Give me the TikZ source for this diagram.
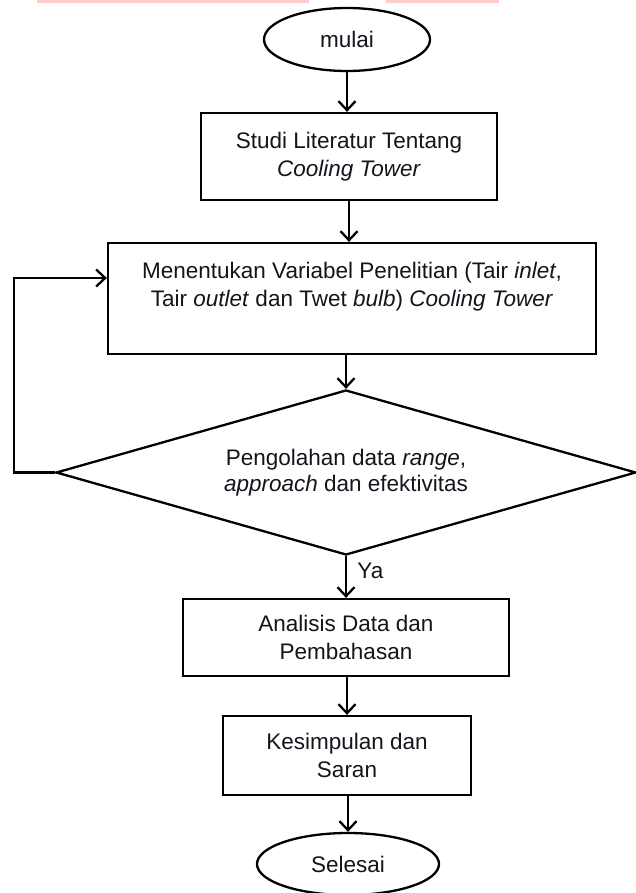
\documentclass[tikz,border=0pt]{standalone}
\usepackage{fontspec}
\setmainfont{Liberation Sans}
\usetikzlibrary{arrows.meta,shapes.geometric}
\definecolor{hilite}{RGB}{255,204,204}
\definecolor{inkc}{RGB}{20,20,28}

\begin{document}
\begin{tikzpicture}[x=1pt, y=-1pt,
    box/.style={draw=black, line width=2.3pt, align=center, inner sep=0pt,
                font=\fontsize{22.5}{28}\selectfont, text=inkc},
    term/.style={ellipse, draw=black, line width=2.3pt, inner sep=0pt,
                 font=\fontsize{22.5}{28}\selectfont, text=inkc},
    decision/.style={diamond, draw=black, line width=2.3pt, inner sep=0pt, aspect=3.5,
                     align=center, font=\fontsize{22.5}{26}\selectfont, text=inkc},
    arr/.style={-{Straight Barb[length=9pt,width=17pt,line width=2.3pt]}, line width=2.3pt}
]
\useasboundingbox (0,0) rectangle (636,893);
% strips cut from the page above
\fill[hilite] (37,0) rectangle (309,3);
\fill[hilite] (386,0) rectangle (499,3);

\node[term, minimum width=166pt, minimum height=63pt] (mulai) at (347,39.5) {mulai};
\node[box, minimum width=296pt, minimum height=87pt] (studi) at (349,156.5)
    {Studi Literatur Tentang\\\textit{Cooling Tower}};
\node[box, minimum width=488pt, minimum height=111pt] (variabel) at (352,298.5)
    {Menentukan Variabel Penelitian (Tair \textit{inlet},\\
     Tair \textit{outlet} dan Twet \textit{bulb}) \textit{Cooling Tower}\\ \mbox{}};
\node[decision, minimum width=580pt, minimum height=165pt] (olah) at (346,472.5)
    {Pengolahan data \textit{range},\\\textit{approach} dan efektivitas};
\node[box, minimum width=326pt, minimum height=77pt] (analisis) at (346,637.5)
    {Analisis Data dan\\Pembahasan};
\node[box, minimum width=248pt, minimum height=79pt] (simpul) at (347,755.5)
    {Kesimpulan dan\\Saran};
\node[term, minimum width=182pt, minimum height=62pt] (selesai) at (348,864) {Selesai};
\coordinate (balik) at (14,278);

\draw[arr] (mulai) -- (mulai |- studi.north);
\draw[arr] (studi) -- (studi |- variabel.north);
\draw[arr] (variabel.south -| olah.north) -- (olah.north);
\draw[arr] (olah.south) -- node[pos=0.35, right, xshift=7pt, font=\fontsize{22.5}{26}\selectfont, text=inkc] (ya) {Ya} (olah.south |- analisis.north);
\draw[arr] (analisis.south -| simpul) -- (simpul);
\draw[arr] (simpul.south -| selesai) -- (selesai);
\draw[arr] (olah.west) -| (balik) -- (balik -| variabel.west);
\end{tikzpicture}
\end{document}
